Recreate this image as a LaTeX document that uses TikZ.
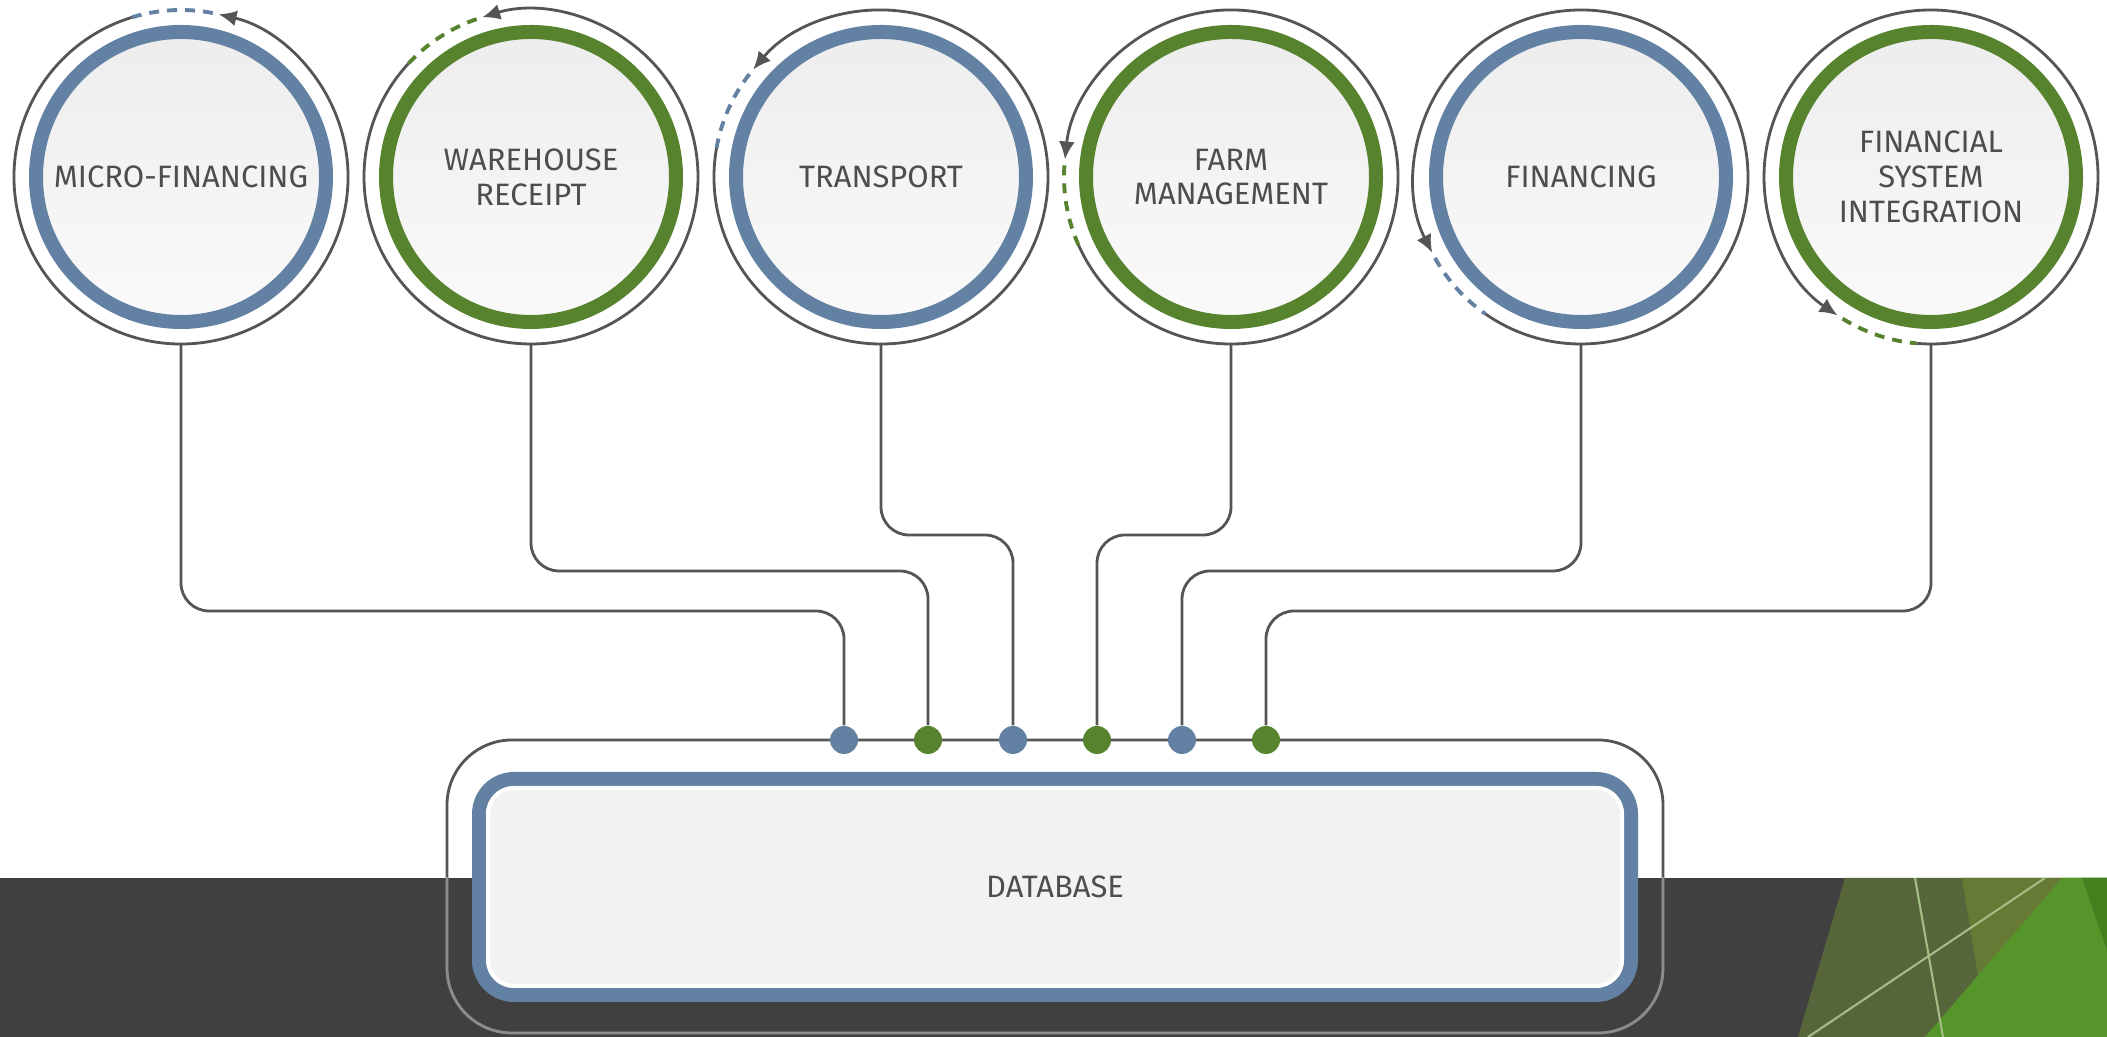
\documentclass[tikz,border=0pt]{standalone}
\usepackage{fontspec}
\setmainfont{Fira Sans}
\usetikzlibrary{arrows.meta,positioning}
\definecolor{ringblue}{HTML}{6381A3}
\definecolor{ringgreen}{HTML}{58832E}
\definecolor{wiregray}{HTML}{555555}
\definecolor{textgray}{HTML}{4D4D4D}
\definecolor{bardark}{HTML}{404040}
\definecolor{olivedark}{HTML}{56653A}
\definecolor{olivelight}{HTML}{667A36}
\definecolor{leafgreen}{HTML}{55952A}
\definecolor{leafdark}{HTML}{45801F}
\definecolor{streak}{HTML}{A3BD84}
\tikzset{>={Latex[length=1.8mm,width=1.6mm]}}
\tikzset{
  topic/.style={circle,minimum size=2.9cm,inner sep=0pt,outer sep=0.22cm,line width=0.14cm,
    draw=#1,top color=black!7,bottom color=black!2,text=textgray,align=center,
    font=\fontsize{8.8}{9.9}\selectfont},
  store/.style={rectangle,rounded corners=0.35cm,minimum width=11.52cm,minimum height=2.16cm,
    outer sep=0pt,line width=0.14cm,draw=ringblue,fill=black!5,text=textgray,
    font=\fontsize{8.8}{9.9}\selectfont},
  orbit/.style={wiregray,line width=0.8pt},
  trail/.style={#1,line width=1.1pt,dash pattern=on 1mm off 0.8mm},
  wire/.style={wiregray,line width=0.8pt,rounded corners=0.28cm},
  port/.style={circle,fill=#1,inner sep=0pt,minimum size=0.28cm},
}

\begin{document}
\begin{tikzpicture}
\useasboundingbox (0,0) rectangle (21.07,10.37);
% bottom band
\fill[bardark] (0,0) rectangle (21.07,1.59);
\fill[olivedark] (18.45,1.59) -- (21.07,1.59) -- (21.07,0) -- (17.98,0) -- cycle;
\fill[olivelight] (19.62,1.59) -- (21.07,1.59) -- (21.07,0) -- (19.88,0) -- cycle;
\fill[leafgreen] (19.25,0) -- (20.62,1.59) -- (21.07,1.59) -- (21.07,0) -- cycle;
\fill[leafdark] (20.82,1.59) -- (21.07,1.59) -- (21.07,0.87) -- cycle;
\draw[streak,line width=0.6pt] (19.15,1.59) -- (19.43,0);
\draw[streak,line width=0.6pt] (20.45,1.59) -- (18.08,0);
% database
\draw[wiregray,line width=0.8pt,rounded corners=0.65cm] (4.47,0.04) rectangle (16.63,2.97);
\begin{scope}
\clip (0,0) rectangle (21.07,1.59);
\draw[black!45,line width=0.8pt,rounded corners=0.65cm] (4.47,0.04) rectangle (16.63,2.97);
\end{scope}
\node[store] (DB) at (10.55,1.50) {DATABASE};
\draw[white,line width=0.04cm,rounded corners=0.26cm] ([shift={(0.09,0.09)}]DB.south west) rectangle ([shift={(-0.09,-0.09)}]DB.north east);
% topics
\node[topic=ringblue] (A) at (1.81,8.60) {MICRO-FINANCING};
\node[topic=ringgreen] (B) at (5.31,8.60) {WAREHOUSE\\RECEIPT};
\node[topic=ringblue] (C) at (8.81,8.60) {TRANSPORT};
\node[topic=ringgreen] (D) at (12.31,8.60) {FARM\\MANAGEMENT};
\node[topic=ringblue] (E) at (15.81,8.60) {FINANCING};
\node[topic=ringgreen] (F) at (19.31,8.60) {FINANCIAL\\SYSTEM\\INTEGRATION};
% orbits
\draw[orbit,->] ([shift={(107:1.67)}]A.center) arc[start angle=107,end angle=437,radius=1.67];
\draw[trail=ringblue] ([shift={(79:1.67)}]A.center) arc[start angle=79,end angle=107,radius=1.67];
\draw[orbit,->] ([shift={(137:1.67)}]B.center) arc[start angle=137,end angle=467,radius=1.67];
\draw[trail=ringgreen] ([shift={(109:1.67)}]B.center) arc[start angle=109,end angle=137,radius=1.67];
\draw[orbit,->] ([shift={(170:1.67)}]C.center) arc[start angle=170,end angle=500,radius=1.67];
\draw[trail=ringblue] ([shift={(142:1.67)}]C.center) arc[start angle=142,end angle=170,radius=1.67];
\draw[orbit,->] ([shift={(204:1.67)}]D.center) arc[start angle=204,end angle=534,radius=1.67];
\draw[trail=ringgreen] ([shift={(176:1.67)}]D.center) arc[start angle=176,end angle=204,radius=1.67];
\draw[orbit,->] ([shift={(235:1.67)}]E.center) arc[start angle=235,end angle=567,radius=1.67];
\draw[trail=ringblue] ([shift={(209:1.67)}]E.center) arc[start angle=209,end angle=235,radius=1.67];
\draw[orbit,->] ([shift={(265:1.67)}]F.center) arc[start angle=265,end angle=596,radius=1.67];
\draw[trail=ringgreen] ([shift={(238:1.67)}]F.center) arc[start angle=238,end angle=265,radius=1.67];
% ports
\node[port=ringblue] (a) at (8.44,2.97) {};
\node[port=ringgreen] (b) at (9.28,2.97) {};
\node[port=ringblue] (c) at (10.13,2.97) {};
\node[port=ringgreen] (d) at (10.97,2.97) {};
\node[port=ringblue] (e) at (11.82,2.97) {};
\node[port=ringgreen] (f) at (12.66,2.97) {};
% wires
\draw[wire] (A.south) |- ([yshift=1.29cm]a.center) -- (a);
\draw[wire] (B.south) |- ([yshift=1.69cm]b.center) -- (b);
\draw[wire] (C.south) |- ([yshift=2.05cm]c.center) -- (c);
\draw[wire] (D.south) |- ([yshift=2.05cm]d.center) -- (d);
\draw[wire] (E.south) |- ([yshift=1.69cm]e.center) -- (e);
\draw[wire] (F.south) |- ([yshift=1.29cm]f.center) -- (f);
\end{tikzpicture}
\end{document}
